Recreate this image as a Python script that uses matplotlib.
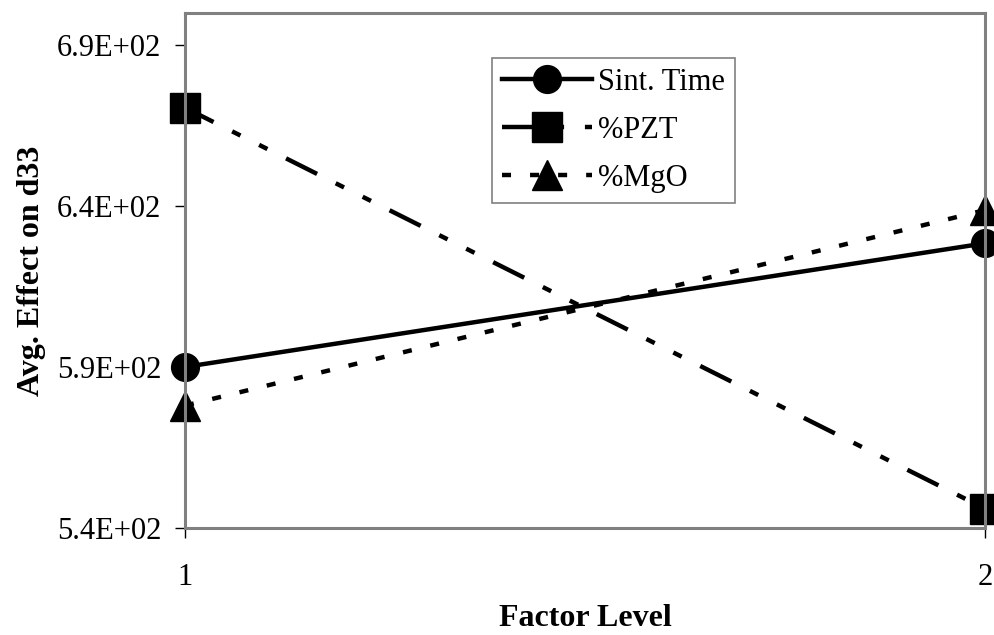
import numpy as np
from matplotlib import pyplot as plt
from matplotlib.lines import Line2D

plt.rcParams['font.family'] = ['Liberation Serif', 'DejaVu Serif']
plt.rcParams['lines.scale_dashes'] = False

levels = [1, 2]
sint_time = [590.0, 628.4]
pct_pzt = [670.5, 546.0]
pct_mgo = [578.0, 638.7]
y_ticks = [540, 590, 640, 690]

fig = plt.figure(figsize=(9.95, 6.35), dpi=100)
ax = fig.add_axes([0.1859, 0.1685, 0.80405, 0.8115])

ax.plot(levels, sint_time, color='black', lw=3.2, linestyle='-',
        marker='o', markersize=20, clip_on=False, label='Sint. Time')
ax.plot(levels, pct_pzt, color='black', lw=3.2,
        linestyle=(2, (25, 15, 6.7, 15, 6.7, 15)),
        marker='s', markersize=21, clip_on=False, label='%PZT')
ax.plot(levels, pct_mgo, color='black', lw=3.2,
        linestyle=(0, (6.5, 13.7)),
        marker='^', markersize=21, clip_on=False, label='%MgO')

ax.set_xlim(1, 2)
ax.set_ylim(540, 700)
ax.set_xticks(levels)
ax.set_xticklabels([str(v) for v in levels])
ax.set_yticks(y_ticks)
ax.set_yticklabels(['{:.1E}'.format(v) for v in y_ticks])
ax.tick_params(axis='both', labelsize=22, direction='out', length=7,
               width=1, color='black')
ax.tick_params(axis='y', pad=10)
ax.tick_params(axis='x', pad=18)

for s in ax.spines.values():
    s.set_color('#808080')
    s.set_linewidth(2.2)
ax.add_line(Line2D([0, 0], [0, 1], transform=ax.transAxes, color='black',
                   lw=1, clip_on=False, zorder=1))
ax.add_line(Line2D([0, 1], [0, 0], transform=ax.transAxes, color='black',
                   lw=1, clip_on=False, zorder=1))

ax.set_xlabel('Factor Level', fontsize=23, fontweight='bold', labelpad=9)
ax.set_ylabel('Avg. Effect on d33', fontsize=23, fontweight='bold', labelpad=8)

leg = ax.legend(loc='upper left', bbox_to_anchor=(0.4945, 0.9087),
                bbox_transform=fig.transFigure, borderaxespad=0,
                fontsize=22, numpoints=1, handlelength=2.95,
                handletextpad=0.2, labelspacing=0.62, borderpad=0.33,
                fancybox=False, framealpha=1)
leg.get_frame().set_edgecolor('#808080')
leg.get_frame().set_linewidth(1.2)

fig.savefig('out.png', dpi=100)
